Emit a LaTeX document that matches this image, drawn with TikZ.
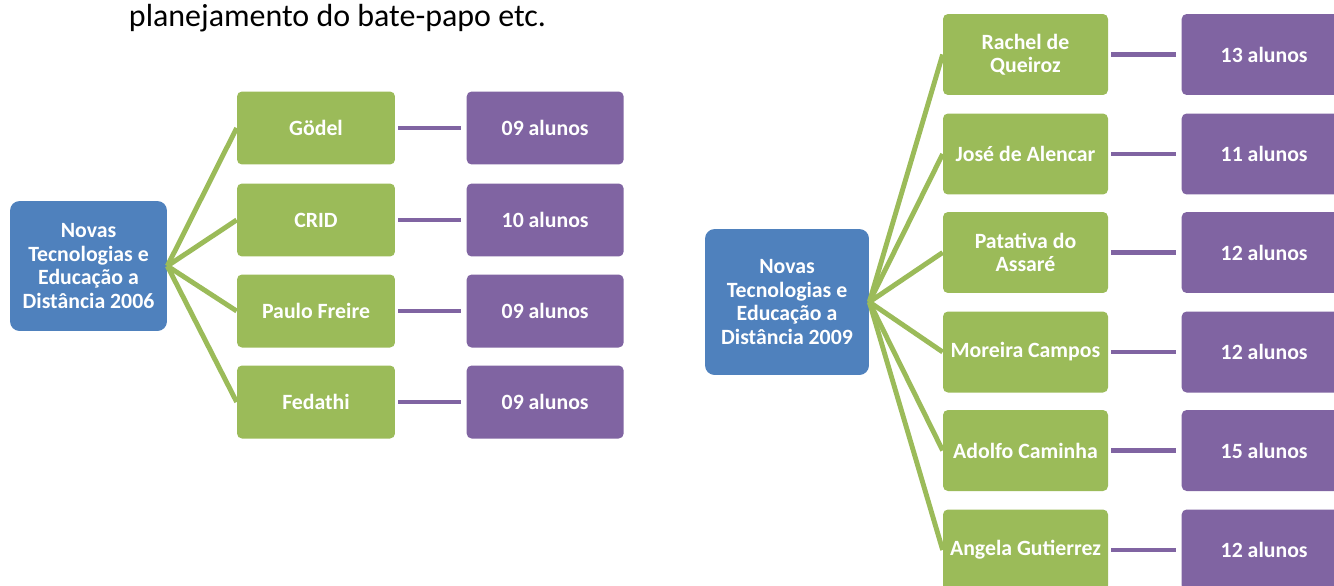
\documentclass[tikz,border=0pt]{standalone}
\usepackage{fontspec}
\setmainfont{Carlito}
\usetikzlibrary{positioning}
\definecolor{myblue}{RGB}{79, 129, 189}
\definecolor{mygreen}{RGB}{155, 187, 89}
\definecolor{mypurple}{RGB}{128, 100, 162}

\begin{document}
\begin{tikzpicture}[x=0.02cm, y=-0.02cm,
    box/.style={rectangle, rounded corners=2.8pt, inner sep=2pt, align=center, text=white, font=\fontsize{12.4}{13.3}\selectfont\bfseries},
    course/.style={box, fill=myblue, rounded corners=5.5pt},
    group/.style={box, fill=mygreen},
    count/.style={box, fill=mypurple},
    branch/.style={draw=mygreen, line width=2.8pt},
    link/.style={draw=mypurple, line width=2.5pt, shorten <=0.06cm, shorten >=0.1cm}]
    \useasboundingbox (0, 0) rectangle (1334, 585);
    \clip (0, 0) rectangle (1334, 585);

    \node[anchor=base, font=\fontsize{18.2}{20}\selectfont] (intro) at (337.5, 26) {planejamento do bate-papo etc.};

    % 2006
    \node[course, minimum width=3.14cm, minimum height=2.6cm] (c1) at (88.5, 266) {Novas\\Tecnologias e\\Educação a\\Distância 2006};

    \node[group, minimum width=3.16cm, minimum height=1.46cm] (a1) at (316, 128) {Gödel};
    \node[group, minimum width=3.16cm, minimum height=1.46cm] (a2) at (316, 220) {CRID};
    \node[group, minimum width=3.16cm, minimum height=1.46cm] (a3) at (316, 311) {Paulo Freire};
    \node[group, minimum width=3.16cm, minimum height=1.46cm] (a4) at (316, 402) {Fedathi};

    \node[count, minimum width=3.14cm, minimum height=1.46cm, right=1.42cm of a1] (n1) {09 alunos};
    \node[count, minimum width=3.14cm, minimum height=1.46cm, right=1.42cm of a2] (n2) {10 alunos};
    \node[count, minimum width=3.14cm, minimum height=1.46cm, right=1.42cm of a3] (n3) {09 alunos};
    \node[count, minimum width=3.14cm, minimum height=1.46cm, right=1.42cm of a4] (n4) {09 alunos};

    \draw[branch] (c1.east) -- (a1.west);
    \draw[branch] (c1.east) -- (a2.west);
    \draw[branch] (c1.east) -- (a3.west);
    \draw[branch] (c1.east) -- (a4.west);

    \draw[link] (a1) -- (n1);
    \draw[link] (a2) -- (n2);
    \draw[link] (a3) -- (n3);
    \draw[link] (a4) -- (n4);

    % 2009
    \node[course, minimum width=3.28cm, minimum height=2.92cm] (c2) at (787, 302) {Novas\\Tecnologias e\\Educação a\\Distância 2009};

    \node[group, minimum width=3.3cm, minimum height=1.62cm] (b1) at (1025.5, 54.5) {Rachel de\\Queiroz};
    \node[group, minimum width=3.3cm, minimum height=1.62cm] (b2) at (1025.5, 154) {José de Alencar};
    \node[group, minimum width=3.3cm, minimum height=1.62cm] (b3) at (1025.5, 252.5) {Patativa do\\Assaré};
    \node[group, minimum width=3.3cm, minimum height=1.62cm] (b4) at (1025.5, 352) {Moreira Campos};
    \node[group, minimum width=3.3cm, minimum height=1.62cm] (b5) at (1025.5, 450.5) {Adolfo Caminha};
    \node[group, minimum width=3.3cm, minimum height=1.62cm] (b6) at (1025.5, 550) {Angela Gutierrez};

    \node[count, minimum width=3.3cm, minimum height=1.62cm, right=1.46cm of b1] (m1) {13 alunos};
    \node[count, minimum width=3.3cm, minimum height=1.62cm, right=1.46cm of b2] (m2) {11 alunos};
    \node[count, minimum width=3.3cm, minimum height=1.62cm, right=1.46cm of b3] (m3) {12 alunos};
    \node[count, minimum width=3.3cm, minimum height=1.62cm, right=1.46cm of b4] (m4) {12 alunos};
    \node[count, minimum width=3.3cm, minimum height=1.62cm, right=1.46cm of b5] (m5) {15 alunos};
    \node[count, minimum width=3.3cm, minimum height=1.62cm, right=1.46cm of b6] (m6) {12 alunos};

    \draw[branch] (c2.east) -- (b1.west);
    \draw[branch] (c2.east) -- (b2.west);
    \draw[branch] (c2.east) -- (b3.west);
    \draw[branch] (c2.east) -- (b4.west);
    \draw[branch] (c2.east) -- (b5.west);
    \draw[branch] (c2.east) -- (b6.west);

    \draw[link] (b1) -- (m1);
    \draw[link] (b2) -- (m2);
    \draw[link] (b3) -- (m3);
    \draw[link] (b4) -- (m4);
    \draw[link] (b5) -- (m5);
    \draw[link] (b6) -- (m6);
\end{tikzpicture}
\end{document}
